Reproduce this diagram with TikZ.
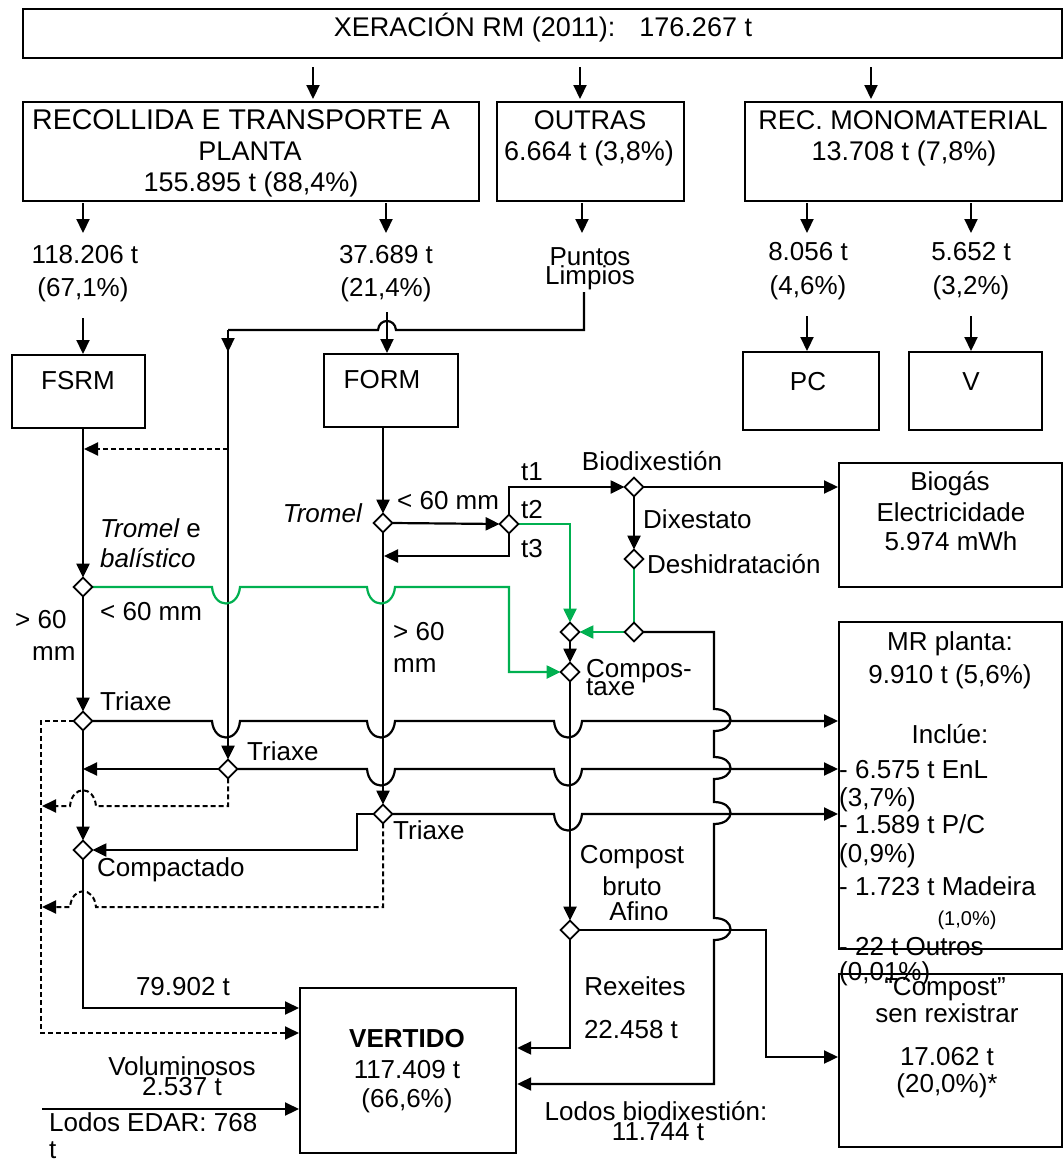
\documentclass[tikz,border=0pt]{standalone}
\usepackage{fontspec}
\setmainfont{Liberation Sans}
\usetikzlibrary{arrows.meta,shapes.geometric}
\definecolor{gr}{RGB}{0,176,80}
\newcommand\hdip[2]{-- ({#1-16},#2) .. controls ({#1-14},{#2+22}) and ({#1+10},{#2+22}) .. ({#1+12},#2)}
\newcommand\vbul[2]{-- (#1,{#2-12}) .. controls ({#1+22},{#2-12}) and ({#1+22},{#2+10}) .. (#1,{#2+10})}
\newcommand\hump[2]{-- ({#1+13},#2) .. controls ({#1+11},{#2-21}) and ({#1-11},{#2-21}) .. ({#1-13},#2)}
\begin{document}
\begin{tikzpicture}[x=1pt,y=-1pt,
  >={Triangle[length=14pt,width=13pt]},
  ln/.style={line width=2.2pt},
  gln/.style={line width=2.2pt, draw=gr},
  dln/.style={line width=2pt, dash pattern=on 5pt off 3pt},
  box/.style={draw, line width=2.2pt, anchor=north west, inner sep=0pt},
  dia/.style={diamond, draw, fill=white, line width=1.8pt, inner sep=0pt, minimum width=17pt, minimum height=17pt},
  txc/.style={font=\fontsize{26}{30}\selectfont, inner sep=0pt, anchor=base},
  txl/.style={txc, anchor=base west},
  txr/.style={txc, anchor=base east},
  big/.style={font=\fontsize{27}{31}\selectfont},
]
\useasboundingbox (0,0) rectangle (1063,1162);

% ---------- boxes
\node[box, minimum width=1039pt, minimum height=49pt] (top) at (22,8) {};
\node[box, minimum width=456pt, minimum height=99pt] (rec) at (22,101) {};
\node[box, minimum width=187pt, minimum height=99pt] (out) at (496,101) {};
\node[box, minimum width=317pt, minimum height=99pt] (mono) at (744,101) {};
\node[box, minimum width=133pt, minimum height=73pt] (fsrm) at (11,354) {};
\node[box, minimum width=134pt, minimum height=73pt] (form) at (323,353) {};
\node[box, minimum width=136pt, minimum height=78pt] (pc) at (742,351) {};
\node[box, minimum width=133pt, minimum height=78pt] (vv) at (908,351) {};
\node[box, minimum width=223pt, minimum height=124pt] (biog) at (838,462) {};
\node[box, minimum width=223pt, minimum height=327pt] (mr) at (838,621) {};
\node[box, minimum width=223pt, minimum height=173pt] (comp) at (838,973) {};
\node[box, minimum width=216pt, minimum height=165pt] (vert) at (299,987) {};

% ---------- box texts
\node[txc,big] (x1) at (543,36) {XERACIÓN RM (2011):\hspace{24pt}176.267 t};
\node[txc, font=\fontsize{28.5}{32}\selectfont] (x2) at (241,129) {RECOLLIDA E TRANSPORTE A};
\node[txc,big] (x3) at (250,160) {PLANTA};
\node[txc,big] (x4) at (251,191) {155.895 t (88,4\%)};
\node[txc,big] (x5) at (590,129) {OUTRAS};
\node[txc,big] (x6) at (589,160) {6.664 t (3,8\%)};
\node[txc,big] (x7) at (903,129) {REC. MONOMATERIAL};
\node[txc,big] (x8) at (904,160) {13.708 t (7,8\%)};
\node[txc] (x9) at (78,389) {FSRM};
\node[txc] (x10) at (382,388) {FORM};
\node[txc] (x11) at (808,390) {PC};
\node[txc] (x12) at (971,390) {V};
\node[txc] (x13) at (950,490) {Biogás};
\node[txc] (x14) at (951,521) {Electricidade};
\node[txc] (x15) at (951,550) {5.974 mWh};
\node[txc] (m1) at (950,650) {MR planta:};
\node[txc] (m2) at (950,683) {9.910 t (5,6\%)};
\node[txc] (m3) at (950,743) {Inclúe:};
\node[txl] (m4) at (839,778) {- 6.575 t EnL};
\node[txl] (m5) at (839,806) {(3,7\%)};
\node[txl] (m6) at (839,833) {- 1.589 t P/C};
\node[txl] (m7) at (839,862) {(0,9\%)};
\node[txl] (m8) at (839,895) {- 1.723 t Madeira};
\node[txc, font=\fontsize{20}{24}\selectfont] (m9) at (967,925) {(1,0\%)};
\node[txl] (m10) at (839,955) {- 22 t Outros};
\node[txl] (m11) at (839,980) {(0,01\%)};
\node[txc] (c1) at (945,995) {“Compost”};
\node[txc] (c2) at (947,1022) {sen rexistrar};
\node[txc] (c3) at (947,1065) {17.062 t};
\node[txc] (c4) at (947,1092) {(20,0\%)*};
\node[txc, font=\fontsize{26}{30}\selectfont\bfseries] (v1) at (407,1047) {VERTIDO};
\node[txc] (v2) at (407,1078) {117.409 t};
\node[txc] (v3) at (407,1107) {(66,6\%)};

% ---------- free labels
\node[txc] (l1) at (85,263) {118.206 t};
\node[txc] (l2) at (83,296) {(67,1\%)};
\node[txc] (l3) at (386,263) {37.689 t};
\node[txc] (l4) at (386,296) {(21,4\%)};
\node[txc] (l5) at (590,265) {Puntos};
\node[txc] (l6) at (590,284) {Limpios};
\node[txc] (l7) at (808,260) {8.056 t};
\node[txc] (l8) at (808,294) {(4,6\%)};
\node[txc] (l9) at (971,260) {5.652 t};
\node[txc] (l10) at (971,294) {(3,2\%)};
\node[txl, font=\fontsize{26}{30}\selectfont\itshape] (l11) at (100,537) {Tromel \upshape e};
\node[txl, font=\fontsize{26}{30}\selectfont\itshape] (l12) at (100,567) {balístico};
\node[txl] (l13) at (100,620) {< 60 mm};
\node[txl] (l14) at (15,628) {> 60};
\node[txl] (l15) at (32,660) {mm};
\node[txr, font=\fontsize{26}{30}\selectfont\itshape] (l16) at (362,522) {Tromel};
\node[txl] (l17) at (397,509) {< 60 mm};
\node[txl] (l18) at (393,640) {> 60};
\node[txl] (l19) at (393,672) {mm};
\node[txl] (l20) at (521,480) {t1};
\node[txl] (l21) at (521,518) {t2};
\node[txl] (l22) at (521,557) {t3};
\node[txc] (l23) at (652,470) {Biodixestión};
\node[txl] (l24) at (643,528) {Dixestato};
\node[txl] (l25) at (647,573) {Deshidratación};
\node[txl] (l26) at (586,677) {Compos-};
\node[txl] (l27) at (586,695) {taxe};
\node[txl] (l28) at (100,710) {Triaxe};
\node[txl] (l29) at (247,760) {Triaxe};
\node[txl] (l30) at (393,839) {Triaxe};
\node[txl] (l31) at (97,876) {Compactado};
\node[txc] (l32) at (632,863) {Compost};
\node[txc] (l33) at (632,895) {bruto};
\node[txc] (l34) at (639,920) {Afino};
\node[txc] (l35) at (183,995) {79.902 t};
\node[txc] (l36) at (635,995) {Rexeites};
\node[txc] (l37) at (631,1038) {22.458 t};
\node[txc] (l38) at (182,1075) {Voluminosos};
\node[txc] (l39) at (182,1095) {2.537 t};
\node[txl] (l40) at (49,1131) {Lodos EDAR: 768};
\node[txl] (l41) at (49,1158) {t};
\node[txc] (l42) at (656,1120) {Lodos biodixestión:};
\node[txc] (l43) at (658,1140) {11.744 t};

% ---------- diamonds
\node[dia] (dtb) at (83,587) {};
\node[dia] (dtr) at (383,523) {};
\node[dia] (dt) at (509,524) {};
\node[dia] (dbio) at (634,487) {};
\node[dia] (ddes) at (634,559) {};
\node[dia] (dmix) at (634,632) {};
\node[dia] (dmxl) at (570,632) {};
\node[dia] (dcomp) at (570,672) {};
\node[dia] (dtx1) at (83,721) {};
\node[dia] (dtx2) at (228,769) {};
\node[dia] (dtx3) at (383,814) {};
\node[dia] (dcmp) at (83,850) {};
\node[dia] (daf) at (570,930) {};

% ---------- free ends
\coordinate (a1) at (313,67); \coordinate (a1e) at (313,99);
\coordinate (a2) at (580,67); \coordinate (a2e) at (580,99);
\coordinate (a3) at (871,67); \coordinate (a3e) at (871,99);
\coordinate (b1) at (83,203); \coordinate (b1e) at (83,233);
\coordinate (b2) at (386,203); \coordinate (b2e) at (386,233);
\coordinate (b3) at (582,203); \coordinate (b3e) at (582,233);
\coordinate (b4) at (807,203); \coordinate (b4e) at (807,233);
\coordinate (b5) at (971,203); \coordinate (b5e) at (971,233);
\coordinate (c1s) at (83,318); \coordinate (c2s) at (387,312);
\coordinate (c4s) at (807,316); \coordinate (c5s) at (971,316);
\coordinate (pl) at (584,292); \coordinate (pl2) at (228,330);
\coordinate (dsh) at (228,449);

% ---------- connectors, top
\begin{scope}[ln]
\draw[->] (a1) -- (a1e);
\draw[->] (a2) -- (a2e);
\draw[->] (a3) -- (a3e);
\draw[->] (b1) -- (b1e);
\draw[->] (b2) -- (b2e);
\draw[->] (b3) -- (b3e);
\draw[->] (b4) -- (b4e);
\draw[->] (b5) -- (b5e);
\draw[->] (c1s) -- (c1s |- fsrm.north);
\draw[->] (c2s) -- (c2s |- form.north);
\draw[->] (c4s) -- (c4s |- pc.north);
\draw[->] (c5s) -- (c5s |- vv.north);
\draw (pl) -- (584,330) -- (396,330) .. controls (395,318) and (379,318) .. (378,330) -- (pl2);
\draw[->] (pl2) -- (228,352);
\draw[->] (pl2) -- (dtx2.north);
\end{scope}
\draw[dln,->] (dsh) -- (84,449);

% ---------- FSRM chain
\begin{scope}[ln]
\draw[->] (fsrm.south -| dtb) -- (dtb.north);
\draw[->] (dtb.south) -- (dtx1.north);
\draw[->] (dtx1.south) -- (dcmp.north);
\draw[->] (dcmp.south) -- (83,1008) -- (vert.west |- 0,1008);
\draw[->] (dtx2.west) -- (dtx2 -| dtx1);
\draw[->] (dtx3.west) -- (357,814) -- (357,850) -- (dcmp.east);
\draw[->] (dtx1.east) \hdip{228}{721} \hdip{383}{721} \hdip{570}{721} -- (mr.west |- dtx1);
\draw[->] (dtx2.east) \hdip{383}{769} \hdip{570}{769} -- (mr.west |- dtx2);
\draw[->] (dtx3.east) \hdip{570}{814} -- (mr.west |- dtx3);
\draw[->] (42,1109) -- (vert.west |- 0,1109);
\end{scope}
\draw[dln,->] (dtx1.west) -- (41,721) -- (41,1033) -- (vert.west |- 0,1033);
\draw[dln,->] (dtx2.south) -- (228,806) \hump{83}{806} -- (42,806);
\draw[dln,->] (dtx3.south) -- (383,907) \hump{83}{907} -- (42,907);

% ---------- FORM chain
\begin{scope}[ln]
\draw[->] (form.south -| dtr) -- (dtr.north);
\draw[->] (dtr.south) -- (dtx3.north);
\draw[->] (dtr.east) -- (dt.west);
\draw[->] (dt.north) -- (509,487) -- (dbio.west);
\draw[->] (dt.south) -- (509,556) -- (384,556);
\draw[->] (dbio.east) -- (biog.west |- dbio);
\draw[->] (dbio.south) -- (ddes.north);
\draw[->] (dmxl.south) -- (dcomp.north);
\draw[->] (dcomp.south) -- (daf.north);
\draw[->] (daf.south) -- (570,1048) -- (vert.east |- 0,1048);
\draw[->] (dmix.east) -- (714,632) \vbul{714}{721} \vbul{714}{769} \vbul{714}{814} \vbul{714}{930} -- (714,1084) -- (vert.east |- 0,1084);
\draw[->] (daf.east) -- (766,930) -- (766,1057) -- (comp.west |- 0,1057);
\end{scope}
\draw[gln,->] (dt.east) -- (dmxl |- dt) -- (dmxl.north);
\draw[gln] (ddes.south) -- (dmix.north);
\draw[gln,->] (dmix.west) -- (dmxl.east);
\draw[gln,->] (dtb.east) \hdip{228}{587} \hdip{383}{587} -- (509,587) -- (509,672) -- (dcomp.west);

% redraw diamonds on top
\foreach \n in {dtb,dtr,dt,dbio,ddes,dmix,dmxl,dcomp,dtx1,dtx2,dtx3,dcmp,daf}
  \draw[line width=1.8pt, fill=white] (\n.north) -- (\n.east) -- (\n.south) -- (\n.west) -- cycle;
\end{tikzpicture}
\end{document}
